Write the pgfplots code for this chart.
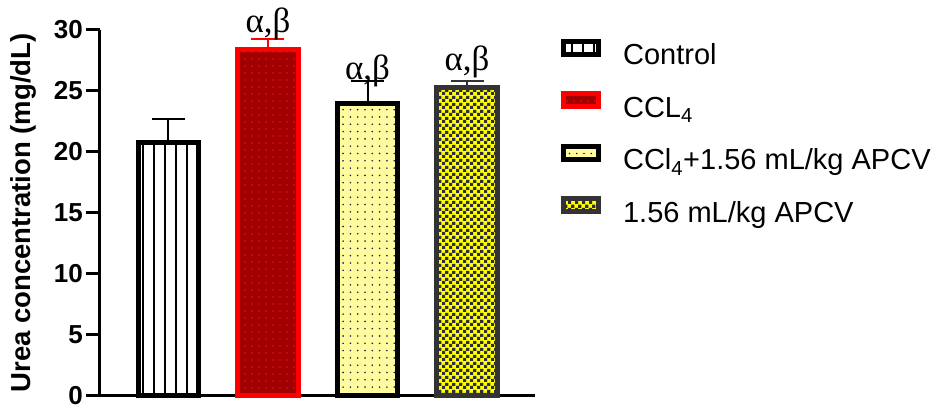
\documentclass[border=0pt]{standalone}
\usepackage{fontspec}
\setmainfont{Liberation Sans}
\newfontfamily\greekfont{Liberation Serif}
\usepackage{pgfplots}
\pgfplotsset{compat=1.18}
\usetikzlibrary{patterns,patterns.meta}
\definecolor{darkred}{RGB}{160,0,0}
\definecolor{brightred}{RGB}{255,0,0}
\definecolor{dotred}{RGB}{235,20,20}
\definecolor{lightyel}{RGB}{255,252,160}
\definecolor{navy}{RGB}{30,30,70}
\definecolor{chkyel}{RGB}{255,255,0}
\definecolor{chkdark}{RGB}{45,45,60}
\definecolor{darkgrey}{RGB}{51,51,51}
\pgfdeclarepatternformonly{mychecker}{\pgfqpoint{0pt}{0pt}}{\pgfqpoint{6.6pt}{6.6pt}}{\pgfqpoint{6.6pt}{6.6pt}}{%
  \pgfpathrectangle{\pgfpointorigin}{\pgfqpoint{3.3pt}{3.3pt}}%
  \pgfpathrectangle{\pgfqpoint{3.3pt}{3.3pt}}{\pgfqpoint{3.3pt}{3.3pt}}%
  \pgfusepath{fill}}
\begin{document}
\begin{tikzpicture}
\begin{axis}[
  scale only axis,
  clip=false,
  width=435pt, height=366pt,
  xmin=-0.688, xmax=3.683,
  ymin=0, ymax=30,
  ybar, bar shift=0pt, bar width=0.61,
  axis x line=bottom, axis y line=left,
  axis line style={-, line width=3pt},
  xtick=\empty,
  ytick={0,5,...,30},
  tick align=outside,
  major tick length=14pt,
  tick style={line width=3pt, black},
  /pgf/number format/assume math mode=true,
  yticklabel style={font=\bfseries\fontsize{26}{26}\selectfont, inner xsep=3pt, inner ysep=0pt},
  ylabel={Urea concentration (mg/dL)},
  every axis y label/.style={at={(axis description cs:-0.177,0.5)}, rotate=90, anchor=center, font=\bfseries\fontsize{27.5}{27.5}\selectfont},
  legend image code/.code={\draw[#1,line width=4pt] (2pt,3pt) rectangle (37pt,16pt);},
  legend cell align=left,
  legend style={draw=none, fill=none, inner sep=0pt, outer sep=0pt,
    at={(axis description cs:1.06,0.975)}, anchor=north west,
    row sep=20pt,
    /tikz/every odd column/.append style={column sep=23pt},
    nodes={inner sep=0pt, text height=22pt, text depth=7pt, font=\fontsize{29}{29}\selectfont}},
]
\addplot[draw=black, line width=5pt, preaction={fill=white}, pattern={Lines[angle=90,distance=11pt,line width=1.7pt]}, pattern color=black,
  error bars/.cd, y dir=plus, y explicit,
  error bar style={line width=2pt, black, solid},
  error mark options={rotate=90, mark size=16.5pt, line width=2pt, black}]
  coordinates {(0,20.8) +- (0,1.9)};
\addlegendentry{Control}
\addplot[draw=brightred, line width=5pt, preaction={fill=darkred}, pattern={Dots[distance=7pt,radius=0.8pt]}, pattern color=dotred,
  error bars/.cd, y dir=plus, y explicit,
  error bar style={line width=2pt, brightred, solid},
  error mark options={rotate=90, mark size=16.5pt, line width=2pt, brightred}]
  coordinates {(1,28.4) +- (0,0.9)};
\addlegendentry{CCL\textsubscript{4}}
\addplot[draw=black, line width=5pt, preaction={fill=lightyel}, pattern={Dots[distance=7.3pt,radius=0.9pt]}, pattern color=navy,
  error bars/.cd, y dir=plus, y explicit,
  error bar style={line width=2pt, black, solid},
  error mark options={rotate=90, mark size=16.5pt, line width=2pt, black}]
  coordinates {(2,24.0) +- (0,1.8)};
\addlegendentry{CCl\textsubscript{4}+1.56 mL/kg APCV}
\addplot[draw=darkgrey, line width=5pt, preaction={fill=chkyel}, pattern=mychecker, pattern color=chkdark,
  error bars/.cd, y dir=plus, y explicit,
  error bar style={line width=2pt, darkgrey, solid},
  error mark options={rotate=90, mark size=16.5pt, line width=2pt, darkgrey}]
  coordinates {(3,25.3) +- (0,0.5)};
\addlegendentry{1.56 mL/kg APCV}
\node[anchor=base, inner sep=0pt, font=\greekfont\fontsize{35}{35}\selectfont] at (axis cs:1,29.3) [yshift=6pt] {α,β};
\node[anchor=base, inner sep=0pt, font=\greekfont\fontsize{35}{35}\selectfont] at (axis cs:2,25.8) [yshift=2pt] {α,β};
\node[anchor=base, inner sep=0pt, font=\greekfont\fontsize{35}{35}\selectfont] at (axis cs:3,25.8) [yshift=11pt] {α,β};
\coordinate (O) at (rel axis cs:0,0);
\end{axis}
\pgfresetboundingbox
\path (O) ++(-100pt,-13pt) rectangle ++(942pt,409pt);
\end{tikzpicture}
\end{document}
